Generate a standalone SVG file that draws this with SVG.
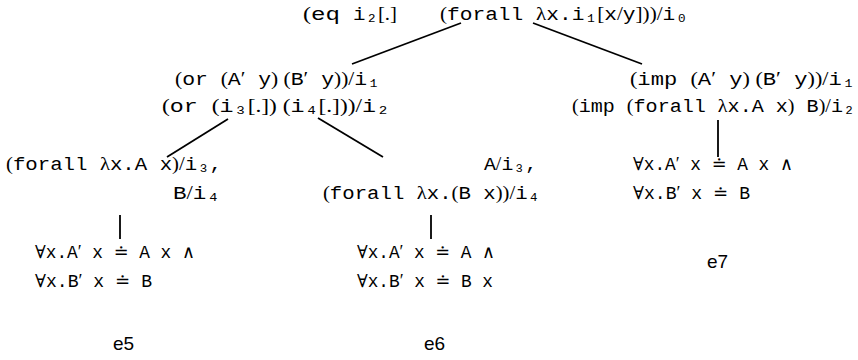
<svg xmlns="http://www.w3.org/2000/svg" width="858" height="360" viewBox="0 0 858 360">
<style>
.t{font-family:"Liberation Mono","DejaVu Sans Mono",monospace;font-size:18px;fill:#000;white-space:pre}
.r{font-family:"Liberation Serif","DejaVu Serif",serif}
.e{font-family:"Liberation Sans","DejaVu Sans",sans-serif;font-size:19px;fill:#000}
.c line{stroke:#000;stroke-width:1.8}
</style>
<rect width="858" height="360" fill="#fff"/>
<g id="connectors" class="c">
<line x1="461" y1="23" x2="352" y2="64"/>
<line x1="533" y1="23" x2="642" y2="64"/>
<line x1="228" y1="119" x2="167" y2="157"/>
<line x1="318" y1="118" x2="383" y2="157"/>
<line x1="718" y1="120" x2="718" y2="157"/>
<line x1="120" y1="215" x2="120" y2="239"/>
<line x1="431" y1="215" x2="431" y2="239"/>
</g>
<g id="root">
<text class="t" x="303" y="20" textLength="37" lengthAdjust="spacingAndGlyphs"><tspan class="r">(</tspan>eq</text>
<text class="t" x="353" y="20" textLength="44" lengthAdjust="spacingAndGlyphs">i₂<tspan class="r">[.]</tspan></text>
<text class="t" x="440" y="20" textLength="248" lengthAdjust="spacingAndGlyphs"><tspan class="r">(</tspan>forall <tspan class="r">λ</tspan>x.i₁<tspan class="r">[</tspan>x<tspan class="r">/</tspan>y<tspan class="r">]))/</tspan>i₀</text>
</g>
<g id="n1">
<text class="t" x="175" y="85" textLength="205" lengthAdjust="spacingAndGlyphs"><tspan class="r">(</tspan>or <tspan class="r">(</tspan>A<tspan class="r">′</tspan> y<tspan class="r">) (</tspan>B<tspan class="r">′</tspan> y<tspan class="r">))/</tspan>i₁</text>
<text class="t" x="162" y="112" textLength="228" lengthAdjust="spacingAndGlyphs"><tspan class="r">(</tspan>or <tspan class="r">(</tspan>i₃<tspan class="r">[.]) (</tspan>i₄<tspan class="r">[.]))/</tspan>i₂</text>
</g>
<g id="n2">
<text class="t" x="630" y="85" textLength="225" lengthAdjust="spacingAndGlyphs"><tspan class="r">(</tspan>imp <tspan class="r">(</tspan>A<tspan class="r">′</tspan> y<tspan class="r">) (</tspan>B<tspan class="r">′</tspan> y<tspan class="r">))/</tspan>i₁</text>
<text class="t" x="572" y="112" textLength="283" lengthAdjust="spacingAndGlyphs"><tspan class="r">(</tspan>imp <tspan class="r">(</tspan>forall <tspan class="r">λ</tspan>x.A x<tspan class="r">)</tspan> B<tspan class="r">)/</tspan>i₂</text>
</g>
<g id="n3">
<text class="t" x="6" y="170" textLength="216" lengthAdjust="spacingAndGlyphs"><tspan class="r">(</tspan>forall <tspan class="r">λ</tspan>x.A x<tspan class="r">)/</tspan>i₃,</text>
<text class="t" x="173" y="199" textLength="47" lengthAdjust="spacingAndGlyphs">B<tspan class="r">/</tspan>i₄</text>
</g>
<g id="n4">
<text class="t" x="484" y="170" textLength="53" lengthAdjust="spacingAndGlyphs">A<tspan class="r">/</tspan>i₃,</text>
<text class="t" x="323" y="199" textLength="217" lengthAdjust="spacingAndGlyphs"><tspan class="r">(</tspan>forall <tspan class="r">λ</tspan>x.<tspan class="r">(</tspan>B x<tspan class="r">))/</tspan>i₄</text>
</g>
<g id="n5">
<text class="t" x="633" y="170" textLength="160" lengthAdjust="spacingAndGlyphs"><tspan class="r">∀</tspan>x.A<tspan class="r">′</tspan> x <tspan class="r">≐</tspan> A x <tspan class="r">∧</tspan></text>
<text class="t" x="633" y="199" textLength="117" lengthAdjust="spacingAndGlyphs"><tspan class="r">∀</tspan>x.B<tspan class="r">′</tspan> x <tspan class="r">≐</tspan> B</text>
</g>
<g id="leaf5">
<text class="t" x="35" y="258" textLength="160" lengthAdjust="spacingAndGlyphs"><tspan class="r">∀</tspan>x.A<tspan class="r">′</tspan> x <tspan class="r">≐</tspan> A x <tspan class="r">∧</tspan></text>
<text class="t" x="35" y="287" textLength="117" lengthAdjust="spacingAndGlyphs"><tspan class="r">∀</tspan>x.B<tspan class="r">′</tspan> x <tspan class="r">≐</tspan> B</text>
</g>
<g id="leaf6">
<text class="t" x="357" y="258" textLength="138" lengthAdjust="spacingAndGlyphs"><tspan class="r">∀</tspan>x.A<tspan class="r">′</tspan> x <tspan class="r">≐</tspan> A <tspan class="r">∧</tspan></text>
<text class="t" x="357" y="287" textLength="136" lengthAdjust="spacingAndGlyphs"><tspan class="r">∀</tspan>x.B<tspan class="r">′</tspan> x <tspan class="r">≐</tspan> B x</text>
</g>
<g id="e5"><text class="e" x="113" y="350">e5</text></g>
<g id="e6"><text class="e" x="424" y="350">e6</text></g>
<g id="e7"><text class="e" x="707" y="268">e7</text></g>
</svg>
